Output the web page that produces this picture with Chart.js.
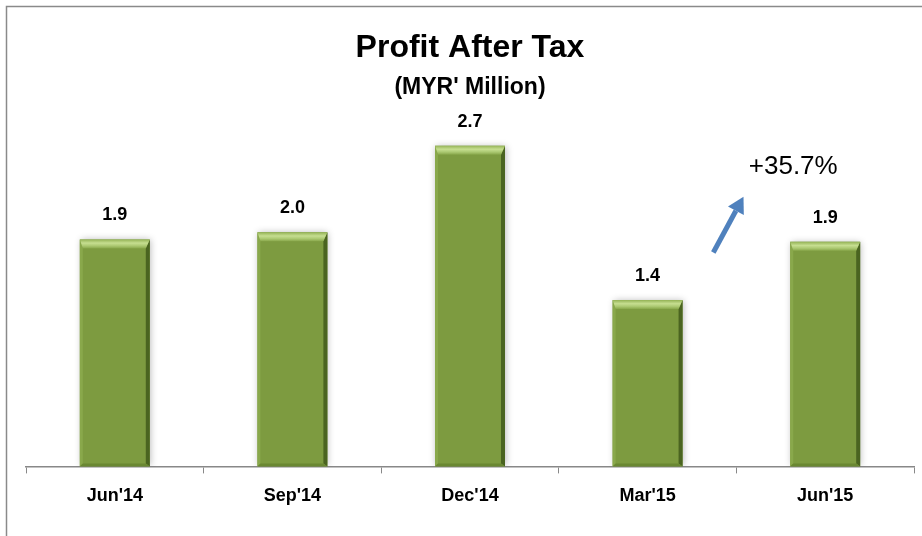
<!DOCTYPE html>
<html>
<head>
<meta charset="utf-8">
<script src="https://cdn.jsdelivr.net/npm/chart.js@4"></script>
<style>
  html, body { margin: 0; padding: 0; background: #fff; }
  #wrap { width: 922px; height: 536px; }
</style>
</head>
<body>
<div id="wrap"><canvas id="pat-chart" width="922" height="536"></canvas></div>
<script>
// chart values
const quarters = ["Jun'14", "Sep'14", "Dec'14", "Mar'15", "Jun'15"]
const profitAfterTax = [1.91, 1.97, 2.7, 1.4, 1.89]
const changeText = '+35.7%'
// arrow annotation, in (category index, value) units
const arrowFrom = [3.37, 1.8]
const arrowTo = [3.54, 2.27]
const changeAt = [3.82, 2.52]

const fontFam = '"Liberation Sans", Arial, sans-serif'

// frame: only left and top edges are visible in the original
const framePlugin = {
  id: 'frame',
  afterDraw(chart) {
    const c = chart.ctx
    c.save()
    c.strokeStyle = '#8a8a8a'
    c.lineWidth = 1.5
    c.beginPath()
    c.moveTo(6.5, chart.height)
    c.lineTo(6.5, 6.5)
    c.lineTo(chart.width, 6.5)
    c.stroke()
    c.restore()
  }
}

// soft shadow, bevels and value labels on the bars
const barLook = {
  id: 'barLook',
  beforeDatasetsDraw(chart) {
    const c = chart.ctx
    c.save()
    c.shadowColor = 'rgba(0,0,0,0.28)'
    c.shadowBlur = 7
    c.shadowOffsetX = 1
    c.shadowOffsetY = 0
  },
  afterDatasetsDraw(chart) {
    const c = chart.ctx
    c.restore()
    const meta = chart.getDatasetMeta(0)
    meta.data.forEach((bar, i) => {
      const l = bar.x - bar.width / 2
      const r = bar.x + bar.width / 2
      const t = bar.y
      const b = bar.base
      const bev = 9
      c.save()
      // left light edge
      c.fillStyle = '#89a84b'
      c.beginPath()
      c.moveTo(l, t); c.lineTo(l + 3, t + bev); c.lineTo(l + 3, b - 3); c.lineTo(l, b)
      c.closePath(); c.fill()
      // right dark edge
      c.fillStyle = '#4a6420'
      c.beginPath()
      c.moveTo(r, t); c.lineTo(r - 4, t + bev); c.lineTo(r - 4, b - 3); c.lineTo(r, b)
      c.closePath(); c.fill()
      // bottom edge
      c.fillStyle = '#6a8832'
      c.beginPath()
      c.moveTo(l, b); c.lineTo(l + 3, b - 3); c.lineTo(r - 4, b - 3); c.lineTo(r, b)
      c.closePath(); c.fill()
      // top bevel
      const g = c.createLinearGradient(0, t, 0, t + bev)
      g.addColorStop(0, '#94b356')
      g.addColorStop(0.4, '#c6de90')
      g.addColorStop(0.7, '#acc972')
      g.addColorStop(1, '#88a74a')
      c.fillStyle = g
      c.beginPath()
      c.moveTo(l, t); c.lineTo(r, t); c.lineTo(r - 4, t + bev); c.lineTo(l + 3, t + bev)
      c.closePath(); c.fill()
      // value label
      c.fillStyle = '#000'
      c.font = 'bold 18px ' + fontFam
      c.textAlign = 'center'
      c.textBaseline = 'middle'
      c.fillText(profitAfterTax[i].toFixed(1), bar.x, t - 24)
      c.restore()
    })
  }
}

// growth arrow and text
const growthNote = {
  id: 'growthNote',
  afterDraw(chart) {
    const xs = chart.scales.x
    const ys = chart.scales.y
    const c = chart.ctx
    const x1 = xs.getPixelForValue(arrowFrom[0]), y1 = ys.getPixelForValue(arrowFrom[1])
    const x2 = xs.getPixelForValue(arrowTo[0]), y2 = ys.getPixelForValue(arrowTo[1])
    const ang = Math.atan2(y2 - y1, x2 - x1)
    const head = 16
    const hx = x2 - head * Math.cos(ang), hy = y2 - head * Math.sin(ang)
    c.save()
    c.strokeStyle = '#4f81bd'
    c.fillStyle = '#4f81bd'
    c.lineWidth = 5
    c.beginPath()
    c.moveTo(x1, y1)
    c.lineTo(hx, hy)
    c.stroke()
    c.beginPath()
    c.moveTo(x2, y2)
    c.lineTo(hx + 9 * Math.sin(ang), hy - 9 * Math.cos(ang))
    c.lineTo(hx - 9 * Math.sin(ang), hy + 9 * Math.cos(ang))
    c.closePath()
    c.fill()
    c.fillStyle = '#000'
    c.font = '26px ' + fontFam
    c.textAlign = 'center'
    c.textBaseline = 'middle'
    c.fillText(changeText, xs.getPixelForValue(changeAt[0]), ys.getPixelForValue(changeAt[1]))
    c.restore()
  }
}

const ctx = document.getElementById('pat-chart')
let patChart = new Chart(ctx, {
  type: 'bar',
  data: {
    labels: quarters,
    datasets: [{
      label: 'Profit After Tax',
      data: profitAfterTax,
      backgroundColor: '#7d9b40',
      borderWidth: 0,
      categoryPercentage: 1,
      barPercentage: 0.394
    }]
  },
  options: {
    responsive: false,
    animation: false,
    layout: { padding: { left: 26, right: 8, top: 0, bottom: 17 } },
    plugins: {
      legend: { display: false },
      tooltip: { enabled: false },
      title: {
        display: true,
        text: 'Profit After Tax',
        color: '#000',
        font: { family: fontFam, size: 32, weight: 'bold' },
        padding: { top: 29, bottom: 6 }
      },
      subtitle: {
        display: true,
        text: "(MYR' Million)",
        color: '#000',
        font: { family: fontFam, size: 23, weight: 'bold' },
        padding: { top: 0, bottom: 9 }
      }
    },
    scales: {
      y: { display: false, min: 0, max: 3 },
      x: {
        offset: true,
        grid: {
          display: true,
          drawOnChartArea: false,
          offset: true,
          color: '#888',
          tickLength: 7
        },
        border: { color: '#888', width: 1.5 },
        ticks: {
          color: '#000',
          padding: 12,
          font: { family: fontFam, size: 18, weight: 'bold' }
        }
      }
    }
  },
  plugins: [framePlugin, barLook, growthNote]
})
</script>
</body>
</html>
